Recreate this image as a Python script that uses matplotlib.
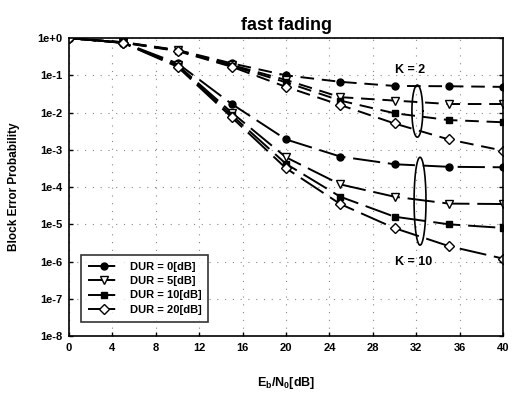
import numpy as np
import matplotlib
matplotlib.use("Agg")
import matplotlib.pyplot as plt
from matplotlib.ticker import FixedLocator, FuncFormatter

plt.rcParams['font.family'] = ['Liberation Sans', 'DejaVu Sans']
plt.rcParams['font.weight'] = 'bold'

ebno = [0, 5, 10, 15, 20, 25, 30, 35, 40]
labels = ["DUR = 0[dB]", "DUR = 5[dB]", "DUR = 10[dB]", "DUR = 20[dB]"]

# K = 2 (dashed)
k2_dur0 = [1.0, 0.78, 0.48, 0.21, 0.10, 0.067, 0.052, 0.051, 0.049]
k2_dur5 = [1.0, 0.77, 0.47, 0.19, 0.075, 0.026, 0.021, 0.017, 0.017]
k2_dur10 = [1.0, 0.76, 0.46, 0.18, 0.065, 0.021, 0.0096, 0.0063, 0.0055]
k2_dur20 = [1.0, 0.75, 0.45, 0.17, 0.049, 0.016, 0.0051, 0.0019, 0.00095]

# K = 10 (solid)
k10_dur0 = [1.0, 0.76, 0.21, 0.017, 0.0019, 0.00066, 0.00041, 0.00035, 0.00034]
k10_dur5 = [1.0, 0.75, 0.19, 0.010, 0.00063, 0.000118, 5.5e-5, 3.6e-5, 3.5e-5]
k10_dur10 = [1.0, 0.75, 0.18, 0.0085, 0.00042, 5.5e-5, 1.6e-5, 1.0e-5, 8.0e-6]
k10_dur20 = [1.0, 0.74, 0.17, 0.0074, 0.00032, 3.5e-5, 7.9e-6, 2.6e-6, 1.2e-6]

k2 = [k2_dur0, k2_dur5, k2_dur10, k2_dur20]
k10 = [k10_dur0, k10_dur5, k10_dur10, k10_dur20]
markers = ['o', 'v', 's', 'D']
faces = ['black', 'white', 'black', 'white']
msizes = [5, 5.5, 4.8, 5]

fig = plt.figure(figsize=(5.17, 3.93), dpi=100)
ax = fig.add_axes([0.1335, 0.145, 0.8395, 0.758])

handles = []
for i in range(4):
    ax.plot(ebno, k2[i], color='black', lw=1.4, dashes=(7, 4),
            marker=markers[i], mfc=faces[i], mec='black', ms=msizes[i], mew=1.0)
    h, = ax.plot(ebno, k10[i], color='black', lw=1.4, dashes=(14, 4),
                 marker=markers[i], mfc=faces[i], mec='black', ms=msizes[i], mew=1.0)
    handles.append(h)

ax.set_yscale('log')
ax.set_xlim(0, 40)
ax.set_ylim(1e-8, 1)
ax.xaxis.set_major_locator(FixedLocator([0, 4, 8, 12, 16, 20, 24, 28, 32, 36, 40]))
ax.yaxis.set_major_locator(FixedLocator([10.0 ** -k for k in range(9)]))
ax.yaxis.set_minor_locator(FixedLocator([]))
ax.yaxis.set_major_formatter(FuncFormatter(
    lambda v, p: "1e+0" if v >= 1 else "1e-%d" % round(-np.log10(v))))
ax.tick_params(direction='in', length=3, width=1, labelsize=8, right=True, pad=5)
for lab in ax.get_xticklabels() + ax.get_yticklabels():
    lab.set_fontweight('bold')
ax.grid(True, which='major', color='#888888', linestyle=(0, (1, 6)), lw=0.8)
for s in ax.spines.values():
    s.set_linewidth(1.2)

# ellipses around curve groups
t = np.linspace(0, 2 * np.pi, 200)
ax.plot(32.1 + 0.5 * np.cos(t), 10 ** (-1.96 + 0.7 * np.sin(t)), color='black', lw=1.2)
ax.plot(32.35 + 0.55 * np.cos(t), 10 ** (-4.38 + 1.18 * np.sin(t)), color='black', lw=1.2)
ax.text(31.4, 0.14, "K = 2", fontsize=9, fontweight='bold', ha='center', va='center')
ax.text(31.8, 1.0e-6, "K = 10", fontsize=9, fontweight='bold', ha='center', va='center')

ax.set_title("fast fading", fontsize=13, fontweight='bold', pad=6)
ax.set_xlabel(r"E$_\mathregular{b}$/N$_\mathregular{0}$[dB]", fontsize=9,
              fontweight='bold', labelpad=16)
ax.set_ylabel("Block Error Probability", fontsize=8.5, fontweight='bold', labelpad=12)

leg = ax.legend(handles, labels, loc='lower left', bbox_to_anchor=(0.015, 0.03),
                fontsize=8, frameon=True, fancybox=False, edgecolor='black',
                handlelength=3, borderpad=0.6, labelspacing=0.4)
leg.get_frame().set_linewidth(1.2)
for txt in leg.get_texts():
    txt.set_fontweight('bold')

fig.savefig("out.png", dpi=100)
